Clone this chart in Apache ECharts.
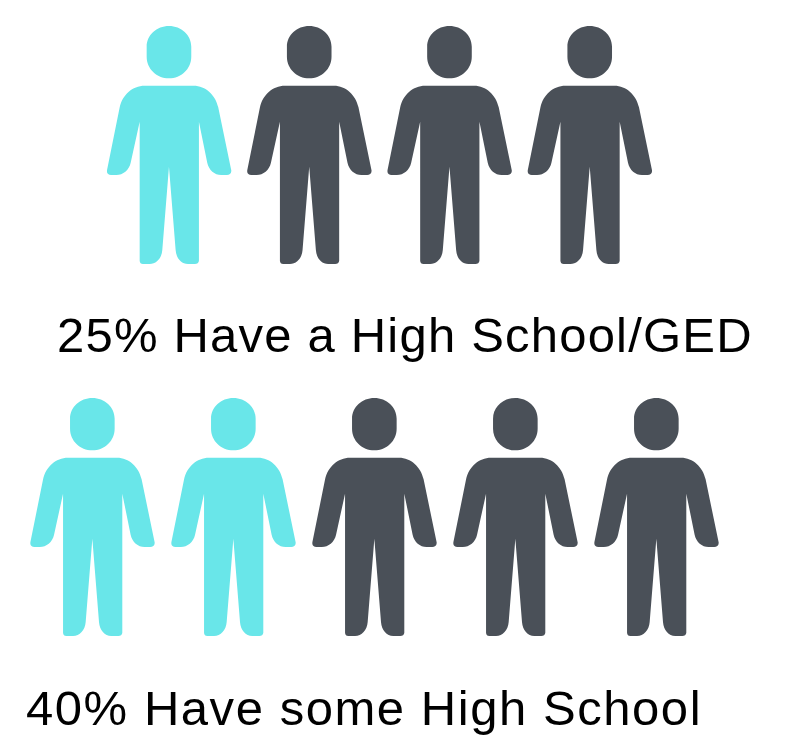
<!DOCTYPE html>
<html><head><meta charset="utf-8">
<style>html,body{margin:0;padding:0;background:#fff}#c{width:796px;height:738px}</style>
<script src="https://cdn.jsdelivr.net/npm/echarts@6/dist/echarts.min.js"></script>
</head><body><div id="c"></div>
<script>
const rowOneLabel = '25% Have a High School/GED';
const rowTwoLabel = '40% Have some High School';
const rowOneShare = [1, 0, 0, 0];
const rowTwoShare = [1, 1, 0, 0, 0];
const filledColor = '#69E6E9';
const emptyColor = '#4A5058';
const person = 'path://M208 18C245 18 275 45 275 80L275 110C275 146 245 175 208 175C171 175 141 146 141 110L141 80C141 45 171 18 208 18ZM135 197L282 197C318 197 348 225 356 262L395 450C397 460 390 465 382 465L365 465C345 465 328 450 323 428L298 305L298 722C298 728 292 732 286 732L265 732C245 732 230 715 228 690L208 440L188 690C186 715 170 732 150 732L130 732C124 732 120 728 120 722L120 305L93 428C88 450 70 465 50 465L34 465C26 465 20 460 22 450L60 262C68 225 98 197 135 197Z';
const chart = echarts.init(document.getElementById('c'), null, {renderer:'svg'});
const row = (vals, i) => ({
  type:'pictorialBar', xAxisIndex:i, yAxisIndex:i, symbol:person,
  symbolSize:[124.5,238], symbolPosition:'start', animation:false, silent:true,
  data: vals.map(v => ({value:1, itemStyle:{color: v ? filledColor : emptyColor}}))
});
const hiddenX = (vals, i) => ({type:'category', gridIndex:i, data:vals.map((_,k)=>k), show:false});
const hiddenY = i => ({type:'value', gridIndex:i, min:0, max:1, show:false});
const labelStyle = {fontFamily:'Liberation Sans', fontSize:49, fontWeight:'normal', color:'#000'};
chart.setOption({
  animation:false, backgroundColor:'#fff',
  title:[
    {text:rowOneLabel, left:57, top:310, padding:0, textStyle:labelStyle},
    {text:rowTwoLabel, left:26, top:683, padding:0, textStyle:labelStyle}
  ],
  grid:[
    {left:99, top:26, width:561, height:238},
    {left:22, top:398, width:705, height:238}
  ],
  xAxis:[hiddenX(rowOneShare,0), hiddenX(rowTwoShare,1)],
  yAxis:[hiddenY(0), hiddenY(1)],
  series:[row(rowOneShare,0), row(rowTwoShare,1)]
});
document.querySelectorAll('#c text').forEach(t => {
  t.style.letterSpacing = t.textContent === rowOneLabel ? '1.2px' : '1.55px';
});
</script></body></html>
